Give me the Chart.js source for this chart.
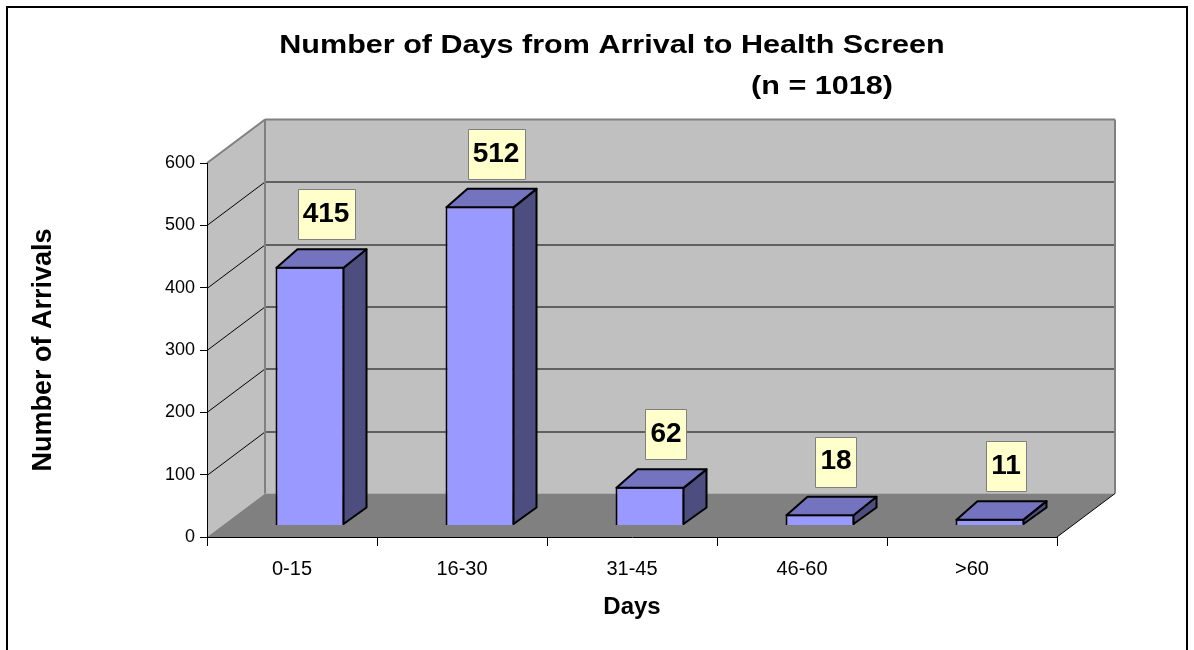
<!DOCTYPE html>
<html>
<head>
<meta charset="utf-8">
<script src="https://cdn.jsdelivr.net/npm/chart.js@4.4.0/dist/chart.umd.min.js"></script>
<style>
  html, body { margin: 0; padding: 0; background: #fff; }
  #area { width: 1194px; height: 650px; position: relative; }
</style>
</head>
<body>
<div id="area"><canvas id="graficoDias"></canvas></div>
<script>
const categorias = ['0-15', '16-30', '31-45', '46-60', '>60'];
const chegadas = [415, 512, 62, 18, 11];
const marcasY = [0, 100, 200, 300, 400, 500, 600];
const titulo = 'Number of Days from Arrival to Health Screen';
const subtitulo = '(n = 1018)';

const FONTE = "'Liberation Sans', Arial, Helvetica, sans-serif";
// profundidade da "caixa" 3D e das barras
const PAREDE = { dx: 58, dy: -43.5 };
const FRENTE_BARRA = { dx: 18, dy: -11.5 };
const FUNDO_BARRA = { dx: 22, dy: -17.5 };

Chart.defaults.font.family = FONTE;
Chart.defaults.color = '#000';

function poligono(ctx, pontos, cor, borda, largura) {
    ctx.beginPath();
    ctx.moveTo(pontos[0][0], pontos[0][1]);
    for (let i = 1; i < pontos.length; i++) ctx.lineTo(pontos[i][0], pontos[i][1]);
    ctx.closePath();
    if (cor) { ctx.fillStyle = cor; ctx.fill(); }
    if (borda) { ctx.strokeStyle = borda; ctx.lineWidth = largura || 1; ctx.stroke(); }
}

function linha(ctx, x1, y1, x2, y2, cor, largura) {
    ctx.beginPath();
    ctx.moveTo(x1, y1);
    ctx.lineTo(x2, y2);
    ctx.strokeStyle = cor;
    ctx.lineWidth = largura;
    ctx.stroke();
}

function textoLargo(ctx, texto, x, y, tamanho, escala) {
    ctx.save();
    ctx.translate(x, y);
    ctx.scale(escala, 1);
    ctx.font = `bold ${tamanho}px ${FONTE}`;
    ctx.textAlign = 'center';
    ctx.textBaseline = 'alphabetic';
    ctx.fillStyle = '#000';
    ctx.fillText(texto, 0, 0);
    ctx.restore();
}

const cenario3d = {
    id: 'cenario3d',
    beforeDraw(chart) {
        const { ctx, chartArea: a, scales: { y } } = chart;
        const base = y.getPixelForValue(marcasY[0]);
        const topo = y.getPixelForValue(marcasY[marcasY.length - 1]);
        const dx = PAREDE.dx, dy = PAREDE.dy;

        ctx.save();
        // parede esquerda, parede do fundo e piso
        poligono(ctx, [[a.left, topo], [a.left + dx, topo + dy], [a.left + dx, base + dy], [a.left, base]], '#C0C0C0');
        poligono(ctx, [[a.left + dx, topo + dy], [a.right + dx, topo + dy], [a.right + dx, base + dy], [a.left + dx, base + dy]], '#C0C0C0');
        poligono(ctx, [[a.left, base], [a.right, base], [a.right + dx, base + dy], [a.left + dx, base + dy]], '#808080');

        marcasY.slice(1, -1).forEach(v => {
            const py = Math.round(y.getPixelForValue(v)) + 0.5;
            linha(ctx, a.left + dx, py + dy, a.right + dx, py + dy, '#000', 1);
            linha(ctx, a.left, py, a.left + dx, py + dy, '#000', 1);
        });

        linha(ctx, a.left, topo, a.left + dx, topo + dy, '#808080', 2);
        linha(ctx, a.left + dx, topo + dy, a.right + dx, topo + dy, '#808080', 2);
        linha(ctx, a.left + dx, topo + dy, a.left + dx, base + dy, '#808080', 2);
        linha(ctx, a.right + dx, topo + dy, a.right + dx, base + dy, '#808080', 2);
        linha(ctx, a.right, base, a.right + dx, base + dy, '#000', 1);
        ctx.restore();
    },
    beforeDatasetsDraw(chart) {
        chart.ctx.save();
        chart.ctx.translate(FRENTE_BARRA.dx, FRENTE_BARRA.dy);
    },
    afterDatasetsDraw(chart) {
        const ctx = chart.ctx;
        ctx.restore();
        const barras = chart.getDatasetMeta(0).data;

        barras.forEach((el, i) => {
            const esq = el.x - el.width / 2 + FRENTE_BARRA.dx;
            const dir = el.x + el.width / 2 + FRENTE_BARRA.dx;
            const cima = el.y + FRENTE_BARRA.dy;
            const baixo = el.base + FRENTE_BARRA.dy;
            const px = FUNDO_BARRA.dx, py = FUNDO_BARRA.dy;

            ctx.save();
            ctx.lineJoin = 'round';
            poligono(ctx, [[dir - 1, cima + 1], [dir + px, cima + py], [dir + px, baixo + py], [dir - 1, baixo - 1]], '#4D4D80', '#000', 2);
            poligono(ctx, [[esq + 1, cima + 1], [esq + px, cima + py], [dir + px, cima + py], [dir - 1, cima + 1]], '#7373BF', '#000', 2);

            // caixinha com o valor
            const texto = String(chegadas[i]);
            ctx.font = `bold 28px ${FONTE}`;
            const larg = ctx.measureText(texto).width + 10;
            const cx = el.x + FRENTE_BARRA.dx + 16;
            const fundo = cima + py - 10;
            ctx.fillStyle = '#FFFFCC';
            ctx.fillRect(Math.round(cx - larg / 2) + 0.5, Math.round(fundo - 50) + 0.5, Math.round(larg), 50);
            ctx.strokeStyle = '#7F7F7F';
            ctx.lineWidth = 1;
            ctx.strokeRect(Math.round(cx - larg / 2) + 0.5, Math.round(fundo - 50) + 0.5, Math.round(larg), 50);
            ctx.fillStyle = '#000';
            ctx.textAlign = 'center';
            ctx.textBaseline = 'middle';
            ctx.fillText(texto, cx, fundo - 25);
            ctx.restore();
        });
    },
    afterDraw(chart) {
        const ctx = chart.ctx;
        textoLargo(ctx, titulo, 612, 53, 26, 1.175);
        textoLargo(ctx, subtitulo, 822, 94, 26, 1.175);
        ctx.save();
        ctx.strokeStyle = '#000';
        ctx.lineWidth = 2;
        ctx.strokeRect(7, 7, 1180, 700);
        ctx.restore();
    }
};

new Chart(document.getElementById('graficoDias'), {
    type: 'bar',
    data: {
        labels: categorias,
        datasets: [{
            label: 'Number of Arrivals',
            data: chegadas,
            backgroundColor: '#9999FF',
            borderColor: '#000',
            borderWidth: 2,
            barPercentage: 0.406,
            categoryPercentage: 1
        }]
    },
    options: {
        responsive: true,
        maintainAspectRatio: false,
        animation: false,
        devicePixelRatio: 1,
        events: [],
        layout: { padding: { left: 0, right: 137, top: 163, bottom: 0 } },
        plugins: {
            legend: { display: false },
            title: { display: false },
            tooltip: { enabled: false }
        },
        scales: {
            x: {
                afterFit(scale) { scale.height = 113; },
                grid: { offset: true, drawOnChartArea: false, drawTicks: true, tickLength: 9, color: '#000' },
                border: { display: true, color: '#000', width: 1 },
                ticks: { font: { size: 20 }, padding: 11, color: '#000' },
                title: { display: true, text: 'Days', font: { size: 24, weight: 'bold' }, padding: { top: 0, bottom: 28 }, color: '#000' }
            },
            y: {
                min: marcasY[0],
                max: marcasY[marcasY.length - 1],
                afterFit(scale) { scale.width = 207; },
                grid: { drawOnChartArea: false, drawTicks: true, tickLength: 7, color: '#000' },
                border: { display: true, color: '#000', width: 1 },
                ticks: { stepSize: marcasY[1] - marcasY[0], font: { size: 18 }, padding: 5, color: '#000' },
                title: { display: true, text: 'Number of Arrivals', font: { size: 27, weight: 'bold' }, padding: { top: 27, bottom: 0 }, color: '#000' }
            }
        }
    },
    plugins: [cenario3d]
});
</script>
</body>
</html>
